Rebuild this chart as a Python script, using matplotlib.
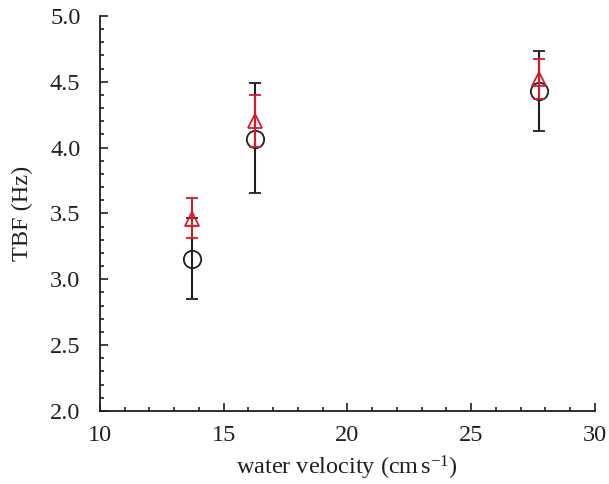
import matplotlib
matplotlib.use("Agg")
import matplotlib.pyplot as plt
from matplotlib.ticker import MultipleLocator

plt.rcParams['font.family'] = ['Liberation Serif', 'DejaVu Serif']
plt.rcParams['mathtext.fontset'] = 'custom'
plt.rcParams['mathtext.rm'] = 'Liberation Serif'
plt.rcParams['mathtext.it'] = 'Liberation Serif:italic'

velocity = [13.74, 16.26, 27.72]
tbf_circle = [3.155, 4.066, 4.428]
circle_lo = [2.852, 3.656, 4.129]
circle_hi = [3.464, 4.489, 4.734]
tbf_triangle = [3.46, 4.20, 4.52]
tri_lo = [3.317, 4.008, 4.368]
tri_hi = [3.620, 4.398, 4.673]

black = '#231f20'
red = '#d7192d'

fig = plt.figure(figsize=(6.09, 4.84), dpi=100)
ax = fig.add_axes([0.164, 0.151, 0.813, 0.816])

err_c = [[m - l for m, l in zip(tbf_circle, circle_lo)], [h - m for m, h in zip(tbf_circle, circle_hi)]]
err_t = [[m - l for m, l in zip(tbf_triangle, tri_lo)], [h - m for m, h in zip(tbf_triangle, tri_hi)]]

ax.errorbar(velocity, tbf_circle, yerr=err_c, fmt='o', ms=12.5, mfc='none', mec=black, mew=1.3,
            ecolor=black, elinewidth=1.5, capsize=4, capthick=1.5, zorder=2)
ax.errorbar(velocity, tbf_triangle, yerr=err_t, fmt='^', ms=10.5, mfc='none', mec=red, mew=1.3,
            ecolor=red, elinewidth=1.5, capsize=4.3, capthick=1.5, zorder=3)

ax.set_xlim(10, 30)
ax.set_ylim(2.0, 5.0)
ax.xaxis.set_major_locator(MultipleLocator(5))
ax.xaxis.set_minor_locator(MultipleLocator(1))
ax.yaxis.set_major_locator(MultipleLocator(0.5))
ax.yaxis.set_minor_locator(MultipleLocator(0.1))
ax.yaxis.set_major_formatter(matplotlib.ticker.FormatStrFormatter('%.1f'))

for s in ['top', 'right']:
    ax.spines[s].set_visible(False)
for s in ['left', 'bottom']:
    ax.spines[s].set_linewidth(1.3)
    ax.spines[s].set_color(black)

ax.tick_params(which='both', direction='in', colors=black, labelsize=17.5, width=1.2)
ax.tick_params(which='major', length=6)
ax.tick_params(which='minor', length=3)
ax.tick_params(axis='x', which='major', pad=10)
ax.tick_params(axis='y', which='major', pad=14)

ax.set_xlabel(r'water velocity (cm$\,$s$^{-1}$)', fontsize=17.5, color=black, labelpad=6)
ax.set_ylabel('TBF (Hz)', fontsize=17.5, color=black, labelpad=12)

fig.savefig('out.png', dpi=100)
